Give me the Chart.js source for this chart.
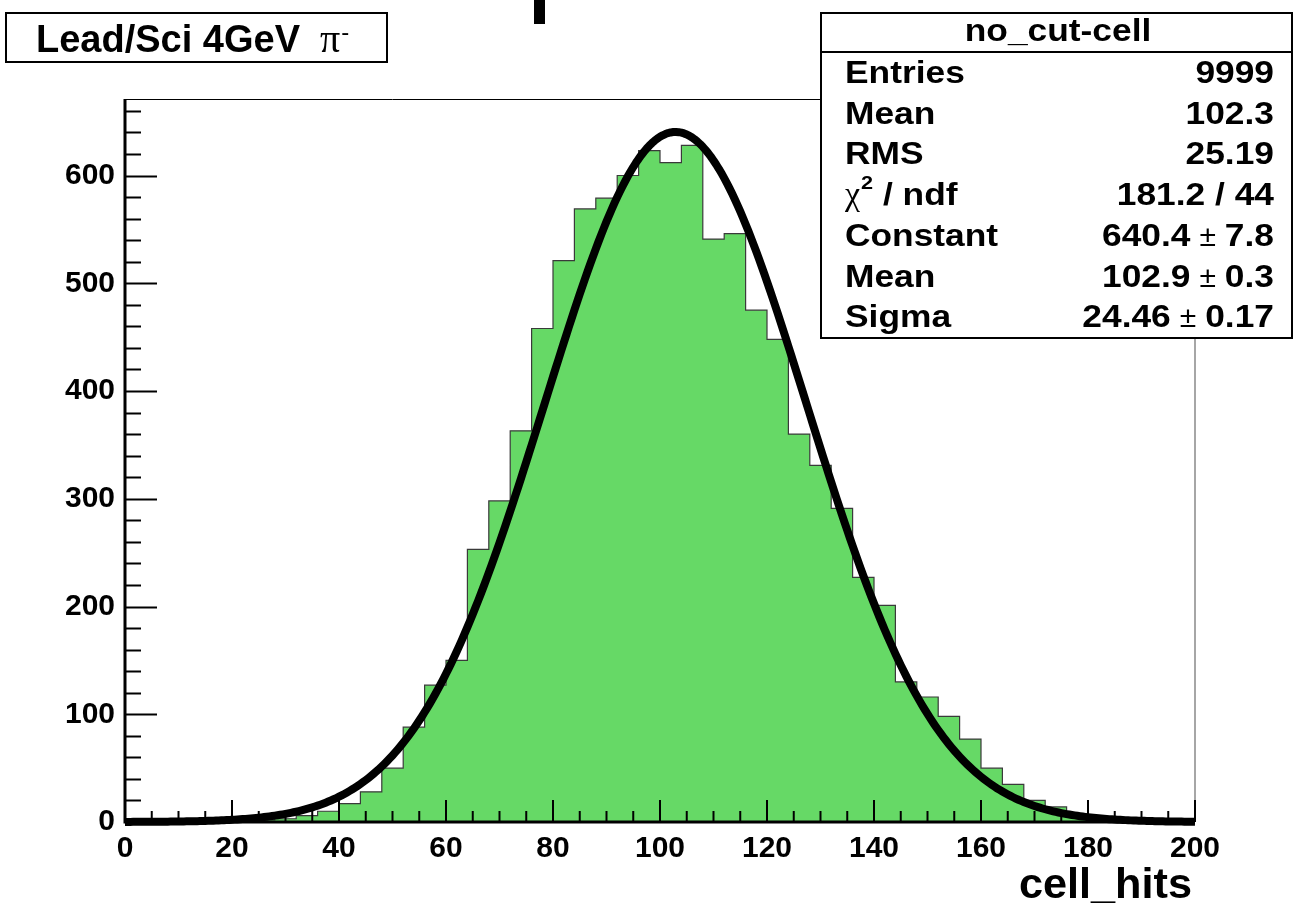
<!DOCTYPE html>
<html>
<head>
<meta charset="utf-8">
<title>cell_hits</title>
<script src="https://cdn.jsdelivr.net/npm/chart.js@4.4.1/dist/chart.umd.min.js"></script>
<style>
  html, body { margin: 0; padding: 0; background: #fff; }
  #wrap { width: 1294px; height: 913px; position: relative; }
</style>
</head>
<body>
<div id="wrap"><canvas id="hist"></canvas></div>
<script>
// cell_hits histogram, 50 bins of width 4 from 0 to 200
const BIN_LOW = 0;
const BIN_WIDTH = 4;
const binCounts = [
  0, 0, 1, 0, 1, 1, 2, 3, 6, 10,
  17, 28, 50, 88, 127, 150, 253, 298, 363, 458,
  521, 569, 579, 600, 623, 612, 628, 541, 546, 475,
  448, 360, 331, 291, 227, 201, 130, 116, 98, 77,
  50, 35, 20, 14, 7, 5, 3, 2, 1, 2
];

const xTicks = [0, 20, 40, 60, 80, 100, 120, 140, 160, 180, 200];
const yTicks = [0, 100, 200, 300, 400, 500, 600];
const X_MAX = 200;
const Y_MAX = 671;

// gaussian fit result (gaus: Constant, Mean, Sigma)
const fitConstant = 640.4;
const fitMean = 102.9;
const fitSigma = 24.46;

const titleText = "Lead/Sci 4GeV";
const axisTitle = "cell_hits";
const statsName = "no_cut-cell";
const statsLabels = ["Entries", "Mean", "RMS", "chi2", "Constant", "Mean", "Sigma"];
const statsValues = ["9999", "102.3", "25.19", "181.2 / 44", "640.4", "102.9", "24.46"];
const statsErrors = [null, null, null, null, "7.8", "0.3", "0.17"];

const FONT = "'Liberation Sans', Arial, Helvetica, sans-serif";
const SERIF = "'Liberation Serif', 'Times New Roman', serif";

// histogram contour: one point per bin low edge, closed at the upper edge
const histPoints = binCounts.map((c, i) => ({ x: BIN_LOW + i * BIN_WIDTH, y: c }));
histPoints.push({ x: BIN_LOW + binCounts.length * BIN_WIDTH, y: binCounts[binCounts.length - 1] });

// fit function evaluated along the axis
const fitPoints = [];
for (let x = 0; x <= X_MAX; x += 0.5) {
  const t = (x - fitMean) / fitSigma;
  fitPoints.push({ x: x, y: fitConstant * Math.exp(-0.5 * t * t) });
}

// ROOT style frame: thick left/bottom axes, ticks pointing inside
const framePlugin = {
  id: "frameTicks",
  afterDatasetDraw(chart, args) {
    if (args.index !== 0) return;
    const ctx = chart.ctx;
    const ca = chart.chartArea;
    const xs = chart.scales.x;
    const ys = chart.scales.y;
    ctx.save();
    ctx.lineCap = "butt";
    ctx.strokeStyle = "#000";
    ctx.lineWidth = 1;
    ctx.beginPath();
    ctx.moveTo(ca.left, ca.top + 0.5);
    ctx.lineTo(ca.right, ca.top + 0.5);
    ctx.stroke();
    ctx.strokeStyle = "#888";
    ctx.lineWidth = 1.5;
    ctx.beginPath();
    ctx.moveTo(ca.right, ca.top);
    ctx.lineTo(ca.right, ca.bottom);
    ctx.stroke();

    ctx.strokeStyle = "#000";
    ctx.lineWidth = 2;
    for (let v = 0; v < Y_MAX; v += 20) {
      const y = Math.round(ys.getPixelForValue(v)) + 0.5;
      const len = v % 100 === 0 ? 32 : 16;
      ctx.beginPath();
      ctx.moveTo(ca.left, y);
      ctx.lineTo(ca.left + len, y);
      ctx.stroke();
    }
    for (let v = 0; v <= X_MAX; v += 5) {
      const x = xs.getPixelForValue(v);
      const len = v % 20 === 0 ? 22 : 11;
      ctx.beginPath();
      ctx.moveTo(x, ca.bottom);
      ctx.lineTo(x, ca.bottom - len);
      ctx.stroke();
    }
    ctx.lineWidth = 3;
    ctx.beginPath();
    ctx.moveTo(ca.left, ca.top);
    ctx.lineTo(ca.left, ca.bottom);
    ctx.lineTo(ca.right, ca.bottom);
    ctx.stroke();
    ctx.restore();
  }
};

// text drawn with a horizontal stretch, returns drawn width
function stretchedText(ctx, text, x, y, align, font, sx) {
  ctx.save();
  ctx.font = font;
  ctx.textAlign = align;
  ctx.textBaseline = "alphabetic";
  ctx.translate(x, y);
  ctx.scale(sx, 1);
  ctx.fillText(text, 0, 0);
  const w = ctx.measureText(text).width * sx;
  ctx.restore();
  return w;
}

const boxesPlugin = {
  id: "boxes",
  afterDraw(chart) {
    const ctx = chart.ctx;
    ctx.save();
    ctx.fillStyle = "#000";

    // clipped title glyph at the very top
    ctx.fillRect(534, 0, 11, 24);

    // pave with the run label
    ctx.fillStyle = "#fff";
    ctx.fillRect(5, 12, 383, 51);
    ctx.strokeStyle = "#000";
    ctx.lineWidth = 2;
    ctx.strokeRect(6, 13, 381, 49);
    ctx.fillStyle = "#000";
    const bold38 = "bold 38px " + FONT;
    const w1 = stretchedText(ctx, titleText, 36, 52, "left", bold38, 1);
    const piX = 36 + w1 + 20;
    const wPi = stretchedText(ctx, "\u03c0", piX, 52, "left", "40px " + SERIF, 1);
    stretchedText(ctx, "-", piX + wPi + 1, 40, "left", "24px " + FONT, 1);

    // axis title
    stretchedText(ctx, axisTitle, 1192, 898, "right", "bold 42px " + FONT, 1.03);

    // statistics box
    const L = 820, T = 12, R = 1292, B = 338;
    ctx.fillStyle = "#fff";
    ctx.fillRect(L, T, R - L, B - T);
    ctx.strokeStyle = "#000";
    ctx.lineWidth = 2;
    ctx.strokeRect(L + 1, T + 1, R - L - 1, B - T - 1);
    ctx.beginPath();
    ctx.moveTo(L, 52);
    ctx.lineTo(R, 52);
    ctx.stroke();

    ctx.fillStyle = "#000";
    const sx = 1.14;
    const bold = "bold 31px " + FONT;
    stretchedText(ctx, statsName, 1058, 41, "center", bold, sx);

    const xL = 845, xR = 1274;
    statsLabels.forEach((lab, i) => {
      const y = 83 + i * 40.7;
      if (lab === "chi2") {
        const wc = stretchedText(ctx, "\u03c7", xL, y, "left", "34px " + SERIF, 1);
        stretchedText(ctx, "2", xL + wc + 1, y - 16, "left", "bold 19px " + FONT, sx);
        stretchedText(ctx, " / ndf", xL + wc + 13, y, "left", bold, sx);
      } else {
        stretchedText(ctx, lab, xL, y, "left", bold, sx);
      }
      const err = statsErrors[i];
      if (err === null) {
        stretchedText(ctx, statsValues[i], xR, y, "right", bold, sx);
      } else {
        // value, plus-minus sign in a plain face, error
        const we = stretchedText(ctx, err, xR, y, "right", bold, sx);
        const pmRight = xR - we - 9;
        const wpm = stretchedText(ctx, "\u00b1", pmRight, y, "right", "30px " + FONT, 1);
        stretchedText(ctx, statsValues[i], pmRight - wpm - 9, y, "right", bold, sx);
      }
    });
    ctx.restore();
  }
};

new Chart(document.getElementById("hist"), {
  type: "line",
  data: {
    datasets: [
      {
        label: statsName,
        data: histPoints,
        stepped: "before",
        fill: "origin",
        backgroundColor: "#66d966",
        borderColor: "#3a3a3a",
        borderWidth: 1.2,
        pointRadius: 0,
        order: 2
      },
      {
        label: "gaus",
        data: fitPoints,
        fill: false,
        borderColor: "#000",
        borderWidth: 8,
        borderCapStyle: "butt",
        borderJoinStyle: "round",
        pointRadius: 0,
        tension: 0,
        clip: false,
        order: 1
      }
    ]
  },
  options: {
    responsive: true,
    maintainAspectRatio: false,
    animation: false,
    events: [],
    layout: { padding: { left: 0, top: 99, right: 99, bottom: 0 } },
    plugins: {
      legend: { display: false },
      tooltip: { enabled: false },
      title: { display: false }
    },
    scales: {
      x: {
        type: "linear",
        min: 0,
        max: X_MAX,
        grid: { display: false, drawTicks: false },
        border: { display: false },
        afterFit: (s) => { s.height = 91; },
        afterBuildTicks: (s) => { s.ticks = xTicks.map(v => ({ value: v })); },
        ticks: {
          color: "#000",
          padding: 9,
          maxRotation: 0,
          autoSkip: false,
          font: { family: FONT, weight: "bold", size: 30 }
        }
      },
      y: {
        type: "linear",
        min: 0,
        max: Y_MAX,
        grid: { display: false, drawTicks: false },
        border: { display: false },
        afterFit: (s) => { s.width = 125; },
        afterBuildTicks: (s) => { s.ticks = yTicks.map(v => ({ value: v })); },
        ticks: {
          color: "#000",
          padding: 10,
          autoSkip: false,
          font: { family: FONT, weight: "bold", size: 30 }
        }
      }
    }
  },
  plugins: [framePlugin, boxesPlugin]
});
</script>
</body>
</html>
